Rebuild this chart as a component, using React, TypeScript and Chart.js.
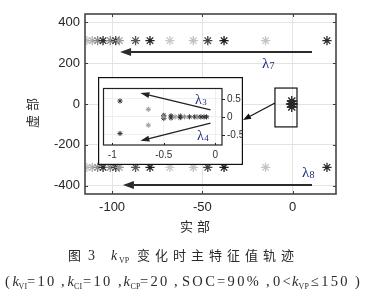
import React, { useEffect, useRef } from "react";
import { Chart, registerables } from "chart.js";

Chart.register(...registerables);

// ---------- main axes ----------
const X_MIN = -115;
const X_MAX = 24;
const Y_MIN = -440;
const Y_MAX = 440;
const X_TICKS = [-100, -50, 0];
const Y_TICKS = [-400, -200, 0, 200, 400];

// λ7 / λ8 trajectory (conjugate pair) as kVP grows
const ROW_REAL = [-114, -111, -108, -105, -101, -98, -96, -87, -79, -68, -55, -47, -38, -15, 19];
const ROW_IMAG = 310;
const ROW_SHADE = [
  "#c4c4c4", "#b2b2b2", "#8a8a8a", "#2e2e2e", "#8c8c8c", "#3a3a3a", "#9c9c9c",
  "#555555", "#222222", "#c8c8c8", "#c0c0c0", "#444444", "#1e1e1e", "#c4c4c4", "#2a2a2a",
];

// eigenvalues close to the origin, seen in the main view
const NEAR_REAL = [-1, -0.5, 0, -0.5, -0.5];
const NEAR_IMAG = [0, 0, 0, 15, -15];

// ---------- inset (zoom of the origin region) ----------
const IN_X_MIN = -1.09;
const IN_X_MAX = 0.065;
const IN_Y_MIN = -0.78;
const IN_Y_MAX = 0.8;
const IN_X_TICKS = [-1, -0.5, 0];
const IN_Y_TICKS = [-0.5, 0, 0.5];
const IN_REAL = [
  -0.925, -0.925, -0.65, -0.65,
  -0.5, -0.5, -0.5, -0.43, -0.43, -0.39, -0.34, -0.34, -0.3, -0.25, -0.2, -0.17, -0.14, -0.11, -0.085,
];
const IN_IMAG = [
  0.44, -0.46, 0.21, -0.23,
  0.04, -0.04, 0, 0.03, -0.03, 0, 0.02, -0.02, 0, 0, 0, 0, 0, 0, 0,
];
const IN_SHADE = [
  "#333333", "#333333", "#999999", "#999999",
  "#2a2a2a", "#2a2a2a", "#999999", "#333333", "#333333", "#999999", "#333333", "#333333", "#888888",
  "#333333", "#333333", "#888888", "#333333", "#333333", "#333333",
];

// ---------- annotations (data units) ----------
const ARROW_L7 = [10.7, 254, -95.6, 254]; // from (x1,y1) to tip (x2,y2)
const ARROW_L8 = [10.7, -396, -94, -396];
const LABEL_L7 = [-17, 176];
const LABEL_L8 = [5.2, -357];
const ZOOM_BOX = [-9.8, 78, 2.4, -112];
const CONNECTOR = [-9.8, 5, -27.5, -78];
const IN_ARROW_L3 = [-0.047, 0.196, -0.727, 0.66];
const IN_ARROW_L4 = [-0.047, -0.176, -0.727, -0.664];
const IN_LABEL_L3 = [-0.196, 0.358];
const IN_LABEL_L4 = [-0.177, -0.64];

// ---------- texts ----------
const X_TITLE = "实部";
const Y_TITLE = "虚部";
const FIG_NO = "图";
const FIG_NUM = "3";
const FIG_TEXT = "变化时主特征值轨迹";

const LAMBDA_COLOR = "#1d2a78";
const SANS = '"Liberation Sans", Arial, sans-serif';
const SERIF = '"Liberation Serif", "Times New Roman", serif';
const CJK = '"Noto Sans CJK SC", sans-serif';

function drawArrow(ctx: CanvasRenderingContext2D, x1: number, y1: number, x2: number, y2: number, lw: number, hl: number, hw: number, color: string) {
  const a = Math.atan2(y2 - y1, x2 - x1);
  const bx = x2 - Math.cos(a) * hl;
  const by = y2 - Math.sin(a) * hl;
  ctx.strokeStyle = color;
  ctx.fillStyle = color;
  ctx.lineWidth = lw;
  ctx.beginPath();
  ctx.moveTo(x1, y1);
  ctx.lineTo(bx, by);
  ctx.stroke();
  ctx.beginPath();
  ctx.moveTo(x2, y2);
  ctx.lineTo(bx + Math.sin(a) * hw / 2, by - Math.cos(a) * hw / 2);
  ctx.lineTo(bx - Math.sin(a) * hw / 2, by + Math.cos(a) * hw / 2);
  ctx.closePath();
  ctx.fill();
}

function drawLambda(ctx: CanvasRenderingContext2D, x: number, y: number, sub: string, size: number) {
  ctx.fillStyle = LAMBDA_COLOR;
  ctx.textAlign = "left";
  ctx.textBaseline = "alphabetic";
  ctx.font = `${size}px ${SERIF}`;
  ctx.fillText("λ", x, y);
  const w = ctx.measureText("λ").width;
  ctx.font = `${Math.round(size * 0.66)}px ${SERIF}`;
  ctx.fillText(sub, x + w + 0.3, y + 1);
}

function drawSpaced(ctx: CanvasRenderingContext2D, text: string, x: number, y: number, spacing: number) {
  let cx = x;
  for (const ch of Array.from(text)) {
    ctx.fillText(ch, cx, y);
    cx += ctx.measureText(ch).width + spacing;
  }
  return cx;
}

const framePlugin = {
  id: "frame",
  afterDraw(chart: any) {
    const { ctx, chartArea, scales } = chart;
    const { left, right, top, bottom } = chartArea;
    const xs = scales.x;
    const ys = scales.y;
    const X = (v: number) => xs.getPixelForValue(v);
    const Y = (v: number) => ys.getPixelForValue(v);
    ctx.save();
    // inward ticks
    ctx.strokeStyle = "#3a3a3a";
    ctx.lineWidth = 1;
    ctx.beginPath();
    for (const v of X_TICKS) {
      const p = Math.round(X(v)) + 0.5;
      ctx.moveTo(p, bottom); ctx.lineTo(p, bottom - 3);
      ctx.moveTo(p, top); ctx.lineTo(p, top + 3);
    }
    for (const v of Y_TICKS) {
      const p = Math.round(Y(v)) + 0.5;
      ctx.moveTo(left, p); ctx.lineTo(left + 3, p);
      ctx.moveTo(right, p); ctx.lineTo(right - 3, p);
    }
    ctx.stroke();
    // box
    ctx.strokeStyle = "#454545";
    ctx.lineWidth = 1.6;
    ctx.strokeRect(left, top, right - left, bottom - top);

    // trajectory arrows
    drawArrow(ctx, X(ARROW_L7[0]), Y(ARROW_L7[1]), X(ARROW_L7[2]), Y(ARROW_L7[3]), 2, 11, 8, "#2b2b2b");
    drawArrow(ctx, X(ARROW_L8[0]), Y(ARROW_L8[1]), X(ARROW_L8[2]), Y(ARROW_L8[3]), 2, 11, 8, "#2b2b2b");
    drawLambda(ctx, X(LABEL_L7[0]), Y(LABEL_L7[1]), "7", 15);
    drawLambda(ctx, X(LABEL_L8[0]), Y(LABEL_L8[1]), "8", 15);

    // zoom box + connector
    ctx.strokeStyle = "#111";
    ctx.lineWidth = 1.2;
    const bx1 = X(ZOOM_BOX[0]), by1 = Y(ZOOM_BOX[1]), bx2 = X(ZOOM_BOX[2]), by2 = Y(ZOOM_BOX[3]);
    ctx.strokeRect(bx1, by1, bx2 - bx1, by2 - by1);
    drawArrow(ctx, X(CONNECTOR[0]), Y(CONNECTOR[1]), X(CONNECTOR[2]), Y(CONNECTOR[3]), 1.2, 8, 6, "#111");

    // y title (rotated)
    ctx.fillStyle = "#2a2a2a";
    ctx.font = `13px ${CJK}`;
    ctx.textBaseline = "middle";
    ctx.textAlign = "left";
    ctx.save();
    ctx.translate(32, 113);
    ctx.rotate(-Math.PI / 2);
    drawSpaced(ctx, Y_TITLE, -15, 0, 4);
    ctx.restore();

    // x title
    ctx.fillStyle = "#2a2a2a";
    ctx.font = `13px ${CJK}`;
    ctx.textBaseline = "middle";
    drawSpaced(ctx, X_TITLE, 180, 226, 4);

    // caption line 2
    ctx.font = `13px ${CJK}`;
    ctx.fillText(FIG_NO, 68, 255.5);
    ctx.textBaseline = "alphabetic";
    ctx.font = `14px ${SERIF}`;
    ctx.fillText(FIG_NUM, 88, 260);
    ctx.font = `italic 14px ${SERIF}`;
    ctx.fillText("k", 111, 260);
    ctx.font = `8px ${SERIF}`;
    ctx.fillText("VP", 119, 263);
    ctx.font = `13px ${CJK}`;
    ctx.textBaseline = "middle";
    drawSpaced(ctx, FIG_TEXT, 137, 255.5, 5);

    // caption line 3
    ctx.textBaseline = "alphabetic";
    const runs: [string, number, string][] = [
      ["(", 5, "n"], ["k", 12.5, "i"], ["VI", 18.5, "s"], ["=10", 27, "n"], [",", 61, "n"],
      ["k", 67.5, "i"], ["CI", 74, "s"], ["=10", 83, "n"], [",", 118, "n"],
      ["k", 123.5, "i"], ["CP", 130.5, "s"], ["=20", 140, "n"], [",", 174, "n"],
      ["SOC=90%", 182, "n"], [",", 266, "n"], ["0<", 273, "n"],
      ["k", 292, "i"], ["VP", 298.5, "s"], ["≤150", 311, "n"], [")", 355, "n"],
    ];
    for (const [t, x, s] of runs) {
      if (s === "n") { ctx.font = `14.5px ${SERIF}`; drawSpaced(ctx, t, x, 286, 2.3); }
      else if (s === "i") { ctx.font = `italic 14.5px ${SERIF}`; ctx.fillText(t, x, 286); }
      else { ctx.font = `8px ${SERIF}`; drawSpaced(ctx, t, x, 289, 0.2); }
    }
    ctx.restore();
  },
};

const insetPlugin = {
  id: "insetFrame",
  beforeDraw(chart: any) {
    const { ctx, width, height } = chart;
    ctx.save();
    ctx.fillStyle = "#ffffff";
    ctx.fillRect(0, 0, width, height);
    ctx.restore();
  },
  afterDraw(chart: any) {
    const { ctx, chartArea, scales, width, height } = chart;
    const { left, right, top, bottom } = chartArea;
    const X = (v: number) => scales.x.getPixelForValue(v);
    const Y = (v: number) => scales.y.getPixelForValue(v);
    ctx.save();
    ctx.strokeStyle = "#222";
    ctx.lineWidth = 1;
    ctx.beginPath();
    for (const v of IN_Y_TICKS) {
      const p = Math.round(Y(v)) + 0.5;
      ctx.moveTo(right, p); ctx.lineTo(right + 3, p);
    }
    for (const v of IN_X_TICKS) {
      const p = Math.round(X(v)) + 0.5;
      ctx.moveTo(p, bottom); ctx.lineTo(p, bottom - 2);
    }
    ctx.stroke();
    ctx.lineWidth = 1.2;
    ctx.strokeRect(left + 0.5, top + 0.5, right - left - 0.5, bottom - top - 0.5);
    ctx.strokeStyle = "#111";
    ctx.strokeRect(0.6, 0.6, width - 1.2, height - 1.2);

    drawArrow(ctx, X(IN_ARROW_L3[0]), Y(IN_ARROW_L3[1]), X(IN_ARROW_L3[2]), Y(IN_ARROW_L3[3]), 1.3, 9, 6, "#222");
    drawArrow(ctx, X(IN_ARROW_L4[0]), Y(IN_ARROW_L4[1]), X(IN_ARROW_L4[2]), Y(IN_ARROW_L4[3]), 1.3, 9, 6, "#222");
    drawLambda(ctx, X(IN_LABEL_L3[0]), Y(IN_LABEL_L3[1]), "3", 14);
    drawLambda(ctx, X(IN_LABEL_L4[0]), Y(IN_LABEL_L4[1]), "4", 14);
    ctx.restore();
  },
};

export default function App() {
  const mainRef = useRef<HTMLCanvasElement>(null);
  const insetRef = useRef<HTMLCanvasElement>(null);

  useEffect(() => {
    const mainChart = new Chart(mainRef.current as HTMLCanvasElement, {
      type: "scatter",
      data: {
        datasets: [
          {
            label: "λ7",
            data: ROW_REAL.map((x) => ({ x, y: ROW_IMAG })),
            pointStyle: "star",
            pointRadius: 4.6,
            pointBorderWidth: 1.3,
            pointBorderColor: ROW_SHADE,
            pointBackgroundColor: ROW_SHADE,
          },
          {
            label: "λ8",
            data: ROW_REAL.map((x) => ({ x, y: -ROW_IMAG })),
            pointStyle: "star",
            pointRadius: 4.6,
            pointBorderWidth: 1.3,
            pointBorderColor: ROW_SHADE,
            pointBackgroundColor: ROW_SHADE,
          },
          {
            label: "near origin",
            data: NEAR_REAL.map((x, i) => ({ x, y: NEAR_IMAG[i] })),
            pointStyle: "star",
            pointRadius: 5,
            pointBorderWidth: 1.4,
            pointBorderColor: "#2a2a2a",
            pointBackgroundColor: "#2a2a2a",
          },
        ],
      },
      options: {
        responsive: false,
        animation: false,
        layout: { padding: { top: 14, right: 32, bottom: 74, left: 0 } },
        plugins: { legend: { display: false }, tooltip: { enabled: false } },
        scales: {
          x: {
            type: "linear",
            min: X_MIN,
            max: X_MAX,
            afterBuildTicks: (s: any) => { s.ticks = X_TICKS.map((value) => ({ value })); },
            afterFit: (s: any) => { s.height = 25; },
            grid: { color: "#e3e3e3", drawTicks: false, lineWidth: 1 },
            border: { display: false },
            ticks: {
              font: { family: SANS, size: 13 },
              color: "#262626",
              padding: 6,
              maxRotation: 0,
              autoSkip: false,
              callback: (v: any) => String(v),
            },
          },
          y: {
            type: "linear",
            min: Y_MIN,
            max: Y_MAX,
            afterBuildTicks: (s: any) => { s.ticks = Y_TICKS.map((value) => ({ value })); },
            afterFit: (s: any) => { s.width = 85; },
            grid: { color: "#e3e3e3", drawTicks: false, lineWidth: 1 },
            border: { display: false },
            ticks: {
              font: { family: SANS, size: 13 },
              color: "#262626",
              padding: 5,
              autoSkip: false,
              callback: (v: any) => String(v),
            },
          },
        },
      },
      plugins: [framePlugin],
    } as any);

    const insetChart = new Chart(insetRef.current as HTMLCanvasElement, {
      type: "scatter",
      data: {
        datasets: [
          {
            label: "origin zoom",
            data: IN_REAL.map((x, i) => ({ x, y: IN_IMAG[i] })),
            pointStyle: "star",
            pointRadius: 2.6,
            pointBorderWidth: 1,
            pointBorderColor: IN_SHADE,
            pointBackgroundColor: IN_SHADE,
          },
        ],
      },
      options: {
        responsive: false,
        animation: false,
        layout: { padding: 0 },
        plugins: { legend: { display: false }, tooltip: { enabled: false } },
        scales: {
          x: {
            type: "linear",
            min: IN_X_MIN,
            max: IN_X_MAX,
            afterBuildTicks: (s: any) => { s.ticks = IN_X_TICKS.map((value) => ({ value })); },
            afterFit: (s: any) => { s.height = 20; },
            grid: { color: "#efefef", drawTicks: false },
            border: { display: false },
            ticks: {
              font: { family: SANS, size: 10 },
              color: "#333",
              padding: 4,
              maxRotation: 0,
              autoSkip: false,
              callback: (v: any) => String(v),
            },
          },
          y: {
            type: "linear",
            position: "right",
            min: IN_Y_MIN,
            max: IN_Y_MAX,
            afterBuildTicks: (s: any) => { s.ticks = IN_Y_TICKS.map((value) => ({ value })); },
            afterFit: (s: any) => { s.width = 21; },
            grid: { color: "#efefef", drawTicks: false },
            border: { display: false },
            ticks: {
              font: { family: SANS, size: 10 },
              color: "#333",
              padding: 5,
              autoSkip: false,
              callback: (v: any) => String(v),
            },
          },
        },
      },
      plugins: [insetPlugin],
    } as any);

    return () => {
      mainChart.destroy();
      insetChart.destroy();
    };
  }, []);

  return (
    <div style={{ position: "fixed", left: 0, top: 0, width: 368, height: 293, background: "#fff" }}>
      <canvas
        ref={mainRef}
        width={368}
        height={293}
        style={{ position: "absolute", left: 0, top: 0, width: 368, height: 293 }}
      />
      <canvas
        ref={insetRef}
        width={145}
        height={88}
        style={{ position: "absolute", left: 98, top: 77, width: 145, height: 88 }}
      />
    </div>
  );
}
